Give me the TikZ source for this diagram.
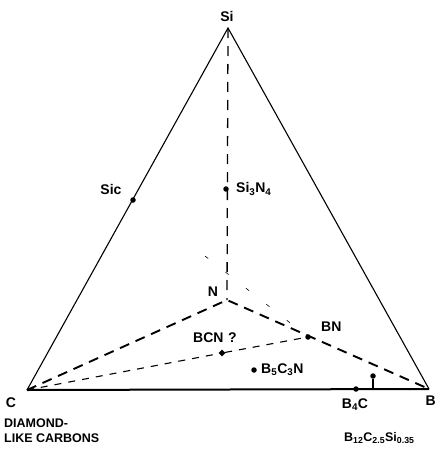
\documentclass[tikz,border=0pt]{standalone}
\usepackage{fontspec}
\setmainfont{Liberation Sans}
\usetikzlibrary{shapes.geometric}
\begin{document}
\begin{tikzpicture}[x=1pt,y=-1pt,font=\bfseries\fontsize{14}{16}\selectfont,
  dot/.style={circle,fill=black,inner sep=0pt,minimum size=5.5pt},
  lab/.style={inner sep=1pt},
  small/.style={inner sep=1pt,font=\bfseries\fontsize{12.5}{14}\selectfont},
  nedge/.style={line width=1.9pt,dash pattern=on 10pt off 7pt},
  siedge/.style={line width=1.3pt,dash pattern=on 10pt off 8pt},
  bcnline/.style={line width=1.1pt,dash pattern=on 7pt off 7pt}]
\useasboundingbox (0,0) rectangle (437,455);
% corners of the triangle and the N apex
\coordinate (C) at (27,390);
\coordinate (B) at (429,389);
\coordinate (Si) at (228,28);
\coordinate (N) at (227,300);
\coordinate (fade) at (205,256);
% phases
\node[dot] (BN) at (308,337) {};
\node[dot] (SiC) at (133,200) {};
\node[dot] (Si3N4) at (226,189) {};
\node[diamond,fill=black,inner sep=0pt,minimum size=7pt] (BCN) at (222,353) {};
\node[dot] (B3C3N) at (254,370) {};
\node[dot] (B4C) at (356,389) {};
\node[dot] (BCSi) at (373,376) {};
% edges
\draw[line width=1.1pt] (C) -- (Si) -- (B);
\draw[line width=2pt] (C) -- (B);
\draw[siedge] (Si) -- (N);
\draw[nedge] (C) -- (N) -- (B);
\draw[bcnline] (C) -- (BCN) -- (BN);
\draw[line width=0.6pt,dash pattern=on 4pt off 22pt] (fade) -- (BN);
\draw[line width=1.2pt] (BCSi) -- (BCSi |- B4C);
% labels
\node[lab] (lSi) at (227,16) {Si};
\node[lab] (lN) at (213,292) {N};
\node[lab,anchor=west] (lBN) at (320,327) {BN};
\node[lab] (lBCN) at (215,338) {BCN\,\,?};
\node[lab] (lSiC) at (111,189) {Sic};
\node[lab,anchor=west] (lSi3N4) at (235,189) {Si\textsubscript{3}N\textsubscript{4}};
\node[lab,anchor=west] (lB3C3N) at (260,370) {B\textsubscript{5}C\textsubscript{3}N};
\node[lab] (lB4C) at (355,405) {B\textsubscript{4}C};
\node[lab] (lC) at (11,403) {C};
\node[lab,anchor=east] (lB) at (437,401) {B};
\node[small,anchor=west] (lDia) at (3,423) {DIAMOND-};
\node[small,anchor=west] (lLike) at (3,438) {LIKE CARBONS};
\node[small,anchor=west] (lBCSi) at (343,438) {B\textsubscript{12}C\textsubscript{2.5}Si\textsubscript{0.35}};
\end{tikzpicture}
\end{document}
